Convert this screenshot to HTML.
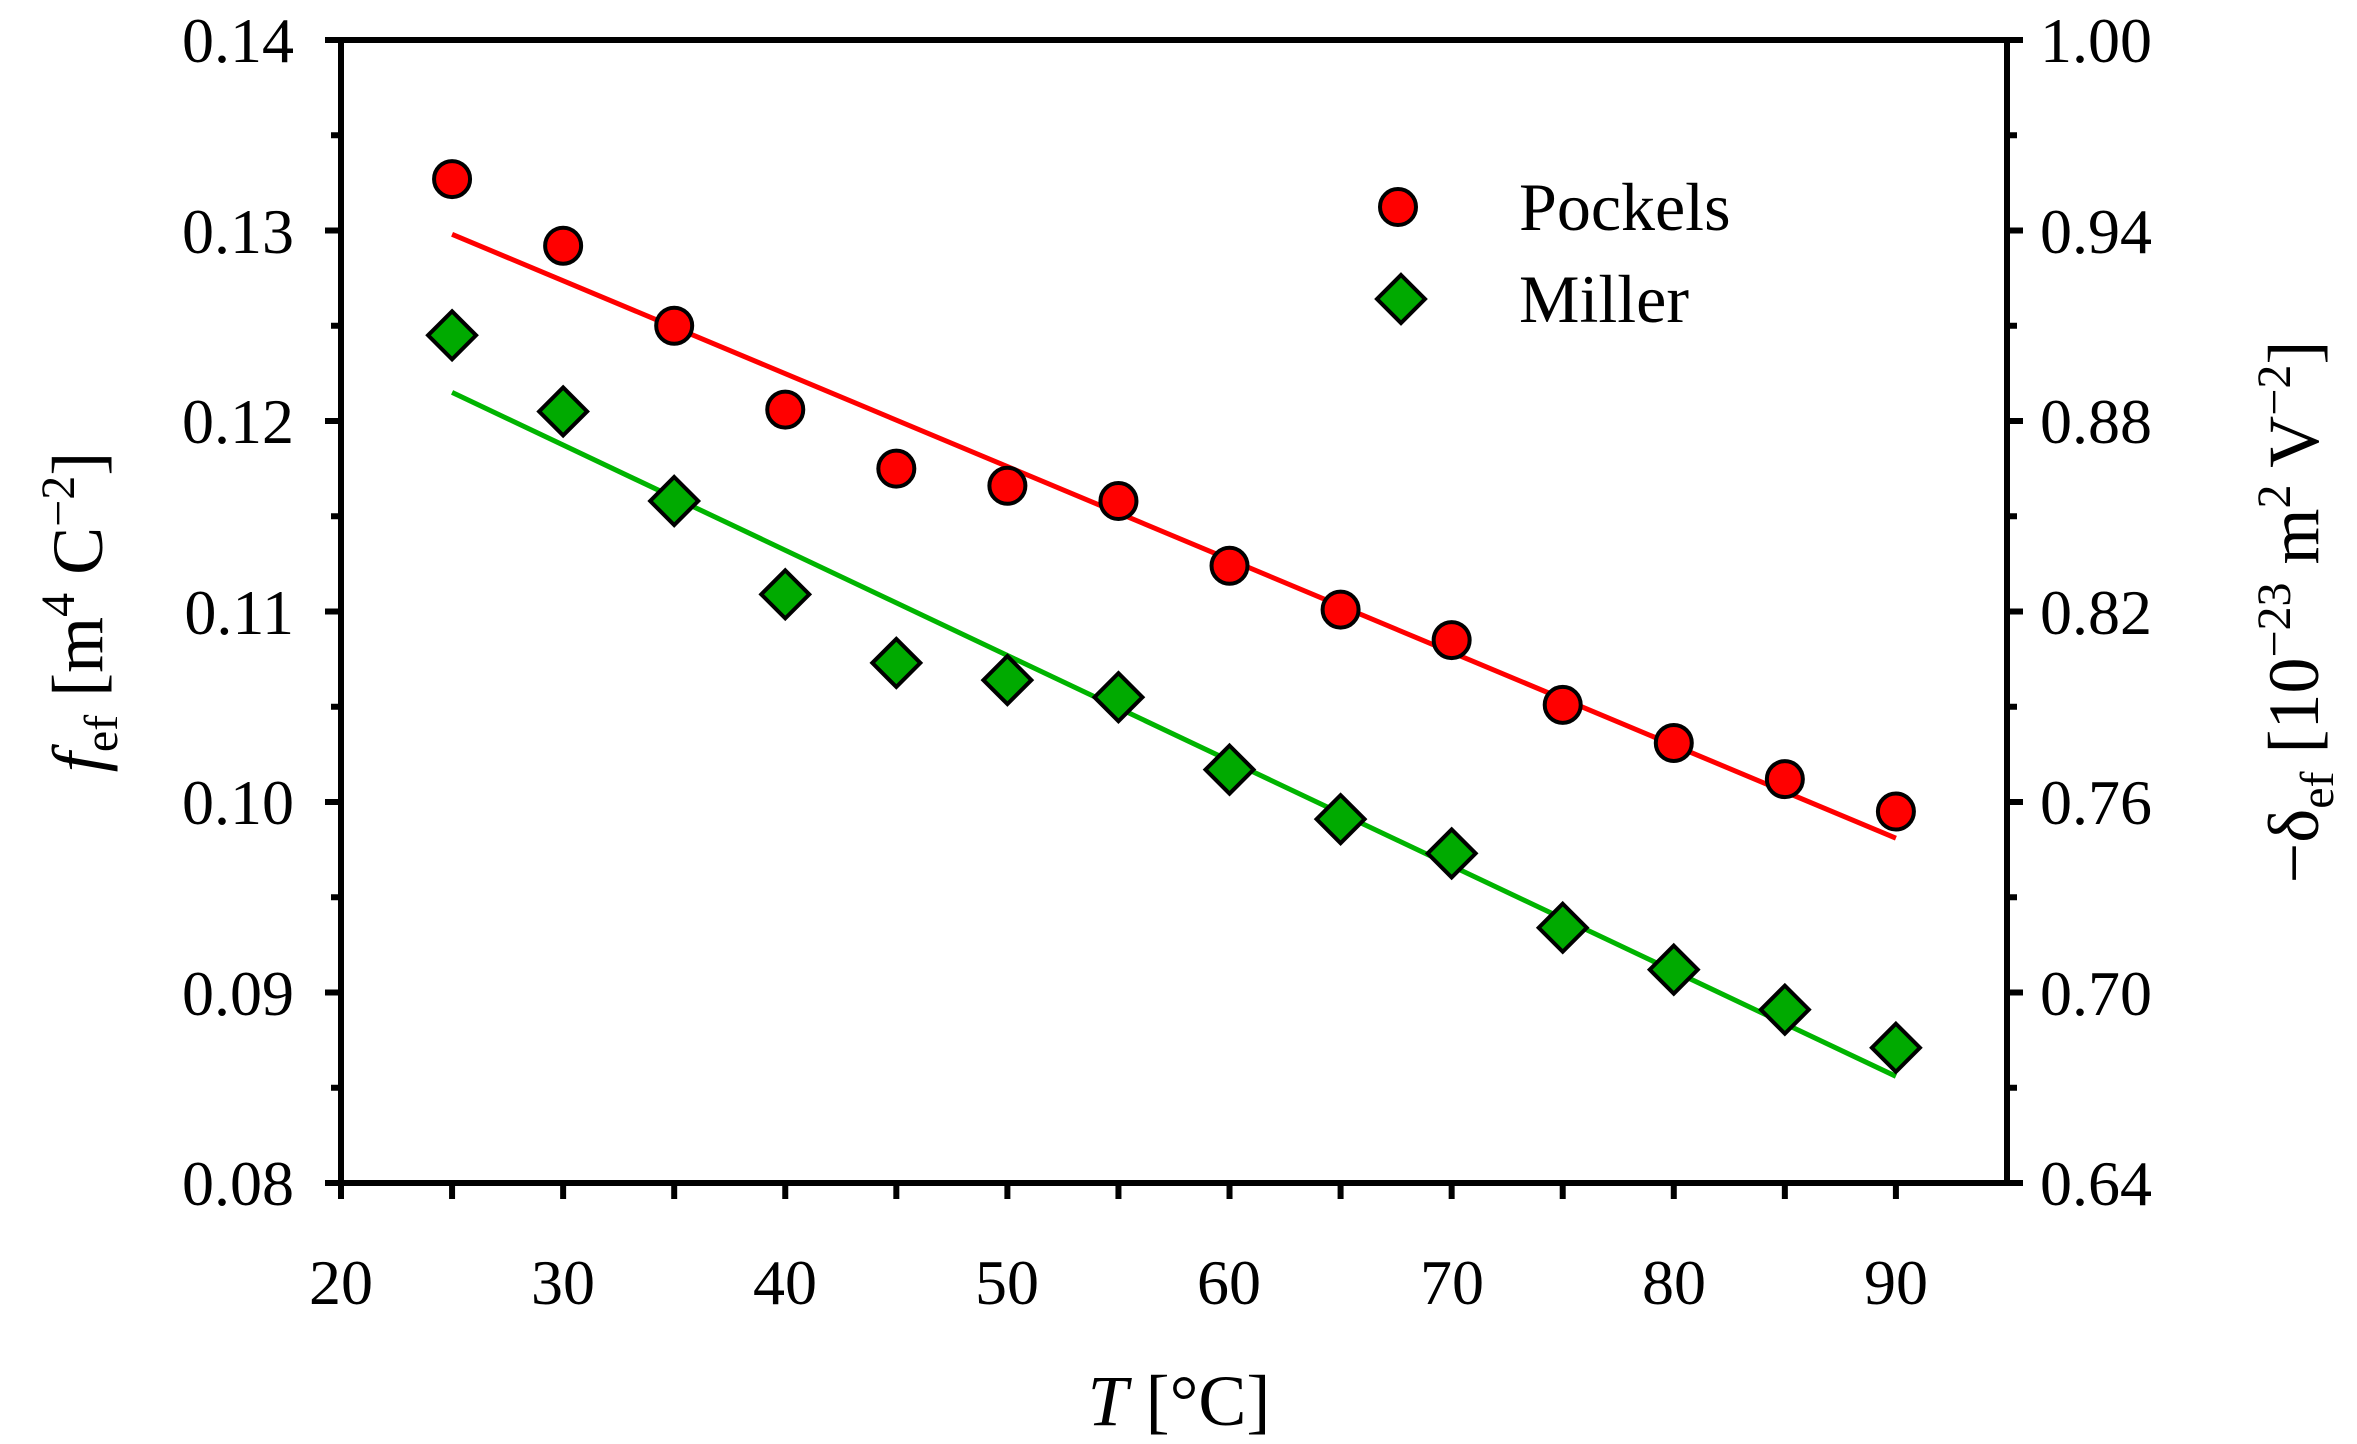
<!DOCTYPE html>
<html><head><meta charset="utf-8"><style>
html,body{margin:0;padding:0;background:#fff;}
svg{display:block;}
text{font-family:"Liberation Serif",serif;fill:#000;}
</style></head><body>
<svg id="s" width="2357" height="1444" viewBox="0 0 2357 1444" xmlns="http://www.w3.org/2000/svg">
<g id="ticks" stroke="#000" stroke-width="6"></g>
<rect x="341" y="40" width="1666" height="1143" fill="none" stroke="#000" stroke-width="6"/>
<g font-size="64" text-anchor="end">
<text x="294" y="62">0.14</text>
<text x="294" y="253">0.13</text>
<text x="294" y="443">0.12</text>
<text x="294" y="634">0.11</text>
<text x="294" y="824">0.10</text>
<text x="294" y="1015">0.09</text>
<text x="294" y="1205">0.08</text>
</g>
<g font-size="64" text-anchor="start">
<text x="2040" y="62">1.00</text>
<text x="2040" y="253">0.94</text>
<text x="2040" y="443">0.88</text>
<text x="2040" y="634">0.82</text>
<text x="2040" y="824">0.76</text>
<text x="2040" y="1015">0.70</text>
<text x="2040" y="1205">0.64</text>
</g>
<g font-size="64" text-anchor="middle">
<text x="341" y="1304">20</text>
<text x="563" y="1304">30</text>
<text x="785" y="1304">40</text>
<text x="1007" y="1304">50</text>
<text x="1229" y="1304">60</text>
<text x="1452" y="1304">70</text>
<text x="1674" y="1304">80</text>
<text x="1896" y="1304">90</text>
</g>
<text x="1179" y="1425" font-size="72" text-anchor="middle"><tspan font-style="italic">T</tspan> [°C]</text>
<text transform="translate(102,612) rotate(-90)" font-size="72" text-anchor="middle"><tspan font-style="italic">f</tspan><tspan font-size="48" dy="15">ef</tspan><tspan dy="-15"> [m</tspan><tspan font-size="48" dy="-28">4</tspan><tspan dy="28"> C</tspan><tspan font-size="48" dy="-28">−2</tspan><tspan dy="28">]</tspan></text>
<text transform="translate(2318,612) rotate(-90)" font-size="72" text-anchor="middle">−δ<tspan font-size="48" dy="15">ef</tspan><tspan dy="-15"> [10</tspan><tspan font-size="48" dy="-28">−23</tspan><tspan dy="28"> m</tspan><tspan font-size="48" dy="-28">2</tspan><tspan dy="28"> V</tspan><tspan font-size="48" dy="-28">−2</tspan><tspan dy="28">]</tspan></text>
<g id="data"></g>
<circle cx="1398" cy="207" r="18" fill="#ff0000" stroke="#000" stroke-width="4"/>
<polygon points="1401,275 1425,299 1401,323 1377,299" fill="#00aa00" stroke="#000" stroke-width="4"/>
<text x="1519" y="230" font-size="68">Pockels</text>
<text x="1519" y="322" font-size="68">Miller</text>
</svg>
<script>
function X(t){return 341+(t-20)*22.213;}
function Y(v){return 40+(0.14-v)*19050;}
var tk=document.getElementById("ticks"),h="";
for(var i=0;i<=12;i++){var y=40+i*95.25,L=(i%2==0)?16:10;
h+='<line x1="'+(341-L)+'" y1="'+y+'" x2="341" y2="'+y+'"/>';
h+='<line x1="2007" y1="'+y+'" x2="'+(2007+L)+'" y2="'+y+'"/>';}
for(var t=20;t<=90;t+=5){h+='<line x1="'+X(t)+'" y1="1183" x2="'+X(t)+'" y2="1199"/>';}
tk.innerHTML=h;
var P=[0.1327,0.1292,0.1250,0.1206,0.1175,0.1166,0.1158,0.1124,0.1101,0.1085,0.1051,0.1031,0.1012,0.0995];
var M=[0.1245,0.1205,0.1158,0.1109,0.1073,0.1064,0.1055,0.1017,0.0991,0.0973,0.0934,0.0912,0.0891,0.0871];
var d="";
d+='<line x1="'+X(25)+'" y1="'+Y(0.1298)+'" x2="'+X(90)+'" y2="'+Y(0.0981)+'" stroke="#ff0000" stroke-width="5"/>';
d+='<line x1="'+X(25)+'" y1="'+Y(0.1215)+'" x2="'+X(90)+'" y2="'+Y(0.0856)+'" stroke="#00b400" stroke-width="5"/>';
for(var k=0;k<14;k++){var x=X(25+5*k);
d+='<circle cx="'+x+'" cy="'+Y(P[k])+'" r="18" fill="#ff0000" stroke="#000" stroke-width="4"/>';
var y=Y(M[k]);
d+='<polygon points="'+x+','+(y-24)+' '+(x+24)+','+y+' '+x+','+(y+24)+' '+(x-24)+','+y+'" fill="#00aa00" stroke="#000" stroke-width="4"/>';}
document.getElementById("data").innerHTML=d;
</script>
</body></html>
